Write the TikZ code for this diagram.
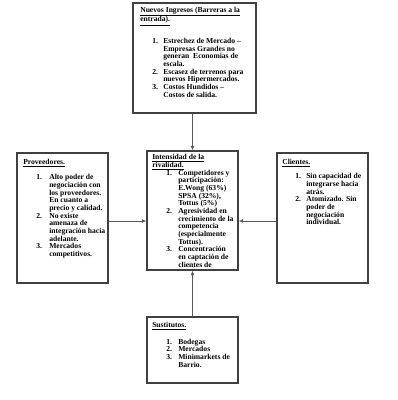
\documentclass[tikz,border=0pt]{standalone}
\usepackage{fontspec}
\setmainfont{Liberation Serif}
\usetikzlibrary{arrows.meta,fit}
\begin{document}
\begin{tikzpicture}[x=0.75pt,y=-0.75pt,
  box/.style={draw=black!75,line width=0.85pt,inner sep=0pt},
  txt/.style={anchor=base west,inner sep=0pt,align=left,
    font=\bfseries\fontsize{5.7}{5.75}\selectfont},
  arr/.style={draw=black!65,line width=0.7pt,-{Latex[length=3.5pt,width=3pt]}}]
\useasboundingbox[fill=white] (0,0) rectangle (398,400);
% boxes
\node[box,fit={(133,3) (256,113)}] (top) {};
\node[box,fit={(17,153) (108,283)}] (left) {};
\node[box,fit={(147,151) (238,270)}] (mid) {};
\node[box,fit={(277,153) (368,283)}] (right) {};
\node[box,fit={(147,317) (238,383)}] (bot) {};
% texts
\node[txt] (ttop) at (140,12) {\begin{tabular}[t]{@{\hspace{9pt}}p{8.25pt}@{}l@{}}
\multicolumn{2}{@{}l@{}}{\underline{Nuevos Ingresos (Barreras a la}}\\
\multicolumn{2}{@{}l@{}}{\underline{entrada).}}\\[10.6pt]
1. & Estrechez de Mercado --\\
 & Empresas Grandes no\\
 & generan~ Economías de\\
 & escala.\\
2. & Escasez de terrenos para\\
 & nuevos Hipermercados.\\
3. & Costos Hundidos --\\
 & Costos de salida.
\end{tabular}};
\node[txt] (tleft) at (23,164) {\begin{tabular}[t]{@{\hspace{9.75pt}}p{9.75pt}@{}l@{}}
\multicolumn{2}{@{}l@{}}{\underline{Proveedores.}}\\[6.2pt]
1. & Alto poder de\\
 & negociación con\\
 & los proveedores.\\
 & En cuanto a\\
 & precio y calidad.\\
2. & No existe\\
 & amenaza de\\
 & integración hacia\\
 & adelante.\\
3. & Mercados\\
 & competitivos.
\end{tabular}};
\node[txt] (tmid) at (152,159) {\begin{tabular}[t]{@{\hspace{10.5pt}}p{9pt}@{}l@{}}
\multicolumn{2}{@{}l@{}}{\underline{Intensidad de la}}\\
\multicolumn{2}{@{}l@{}}{\underline{rivalidad.}}\\
1. & Competidores y\\
 & participación:\\
 & E.Wong (63\%)\\
 & SPSA (32\%),\\
 & Tottus (5\%)\\
2. & Agresividad en\\
 & crecimiento de la\\
 & competencia\\
 & (especialmente\\
 & Tottus).\\
3. & Concentración\\
 & en captación de\\
 & clientes de
\end{tabular}};
\node[txt] (tright) at (282,164) {\begin{tabular}[t]{@{\hspace{9.75pt}}p{8.25pt}@{}l@{}}
\multicolumn{2}{@{}l@{}}{\underline{Clientes.}}\\[5.4pt]
1. & Sin capacidad de\\
 & integrarse hacia\\
 & atrás.\\
2. & Atomizado. Sin\\
 & poder de\\
 & negociación\\
 & individual.
\end{tabular}};
\node[txt] (tbot) at (152,327) {\begin{tabular}[t]{@{\hspace{10.5pt}}p{9pt}@{}l@{}}
\multicolumn{2}{@{}l@{}}{\underline{Sustitutos.}}\\[7pt]
1. & Bodegas\\
2. & Mercados\\
3. & Minimarkets de\\
 & Barrio.
\end{tabular}};
% connectors
\coordinate (ly) at (0,221);
\draw[arr] (mid.north |- top.south) -- (mid.north);
\draw[arr] (left.east |- ly) -- (mid.west |- ly);
\draw[arr] (right.west |- ly) -- (mid.east |- ly);
\draw[arr] (bot.north) -- (mid.south);
\end{tikzpicture}
\end{document}
